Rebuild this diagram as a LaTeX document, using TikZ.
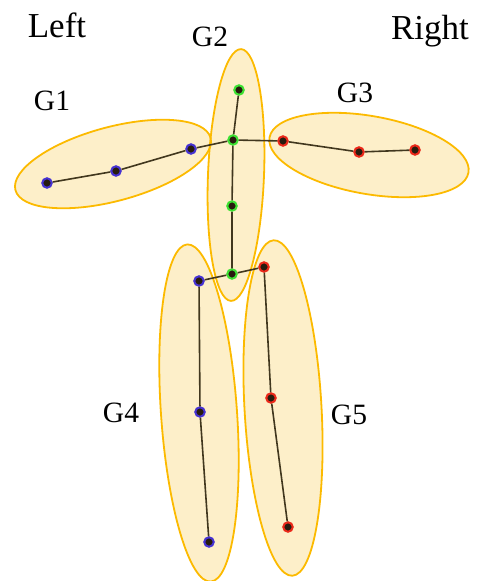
\documentclass[tikz,border=0pt]{standalone}
\usepackage{fontspec}
\setmainfont{Liberation Serif}
\usetikzlibrary{shapes.geometric}
\definecolor{gfill}{RGB}{253,239,201}
\definecolor{gline}{RGB}{252,186,0}
\definecolor{bonecol}{RGB}{65,55,30}
\definecolor{jcore}{RGB}{40,28,15}
\definecolor{jblue}{RGB}{70,50,210}
\definecolor{jgreen}{RGB}{60,225,50}
\definecolor{jred}{RGB}{235,40,25}

\begin{document}
\begin{tikzpicture}[x=1pt, y=1pt,
  font=\fontsize{29.5}{32}\selectfont,
  side/.style={font=\fontsize{35}{38}\selectfont},
  groupfill/.style={ellipse, fill=gfill, inner sep=0pt},
  groupline/.style={ellipse, draw=gline, line width=1.8pt, inner sep=0pt},
  joint/.style={circle, fill=jcore, line width=2pt, minimum size=9.5pt, inner sep=0pt},
  jb/.style={joint, draw=jblue},
  jg/.style={joint, draw=jgreen},
  jr/.style={joint, draw=jred},
  bone/.style={draw=bonecol, line width=1.6pt}]
\useasboundingbox (0,0) rectangle (478,-581);

% groups: fill first, outlines on top
\foreach \n/\x/\y/\w/\h/\r in {g2/236/-175/56/252/-2.3, g1/113/-164/202/74/15, g3/369/-155/202/78/-10, g4/199/-413/76/338/4, g5/283/-408/77/336/3.2}{
  \node[groupfill, minimum width=\w, minimum height=\h, rotate=\r] (\n) at (\x,\y) {};
}
\foreach \x/\y/\w/\h/\r in {236/-175/56/252/-2.3, 113/-164/202/74/15, 369/-155/202/78/-10, 199/-413/76/338/4, 283/-408/77/336/3.2}{
  \node[groupline, minimum width=\w, minimum height=\h, rotate=\r] at (\x,\y) {};
}

% joints
\node[jb] (lhand) at (47,-183) {};
\node[jb] (lelb) at (116,-171) {};
\node[jb] (lsho) at (191,-149) {};
\node[jg] (head) at (239,-90) {};
\node[jg] (neck) at (233,-140) {};
\node[jg] (spine) at (232,-206) {};
\node[jg] (pelvis) at (232,-274) {};
\node[jr] (rsho) at (283,-141) {};
\node[jr] (relb) at (359,-152) {};
\node[jr] (rhand) at (415,-150) {};
\node[jb] (lhip) at (199,-281) {};
\node[jb] (lknee) at (200,-412) {};
\node[jb] (lfoot) at (209,-542) {};
\node[jr] (rhip) at (264,-267) {};
\node[jr] (rknee) at (271,-398) {};
\node[jr] (rfoot) at (288,-527) {};

% skeleton
\draw[bone] (lhand) -- (lelb) -- (lsho) -- (neck);
\draw[bone] (head) -- (neck) -- (spine) -- (pelvis);
\draw[bone] (neck) -- (rsho) -- (relb) -- (rhand);
\draw[bone] (lhip) -- (pelvis) -- (rhip);
\draw[bone] (lhip) -- (lknee) -- (lfoot);
\draw[bone] (rhip) -- (rknee) -- (rfoot);

% labels
\node[side] (left) at (57,-25) {Left};
\node[side] (right) at (430,-31) {Right};
\node (lg1) at (52,-101) {G1};
\node (lg2) at (210,-37) {G2};
\node (lg3) at (355,-93) {G3};
\node (lg4) at (121,-413) {G4};
\node (lg5) at (349,-415) {G5};
\end{tikzpicture}
\end{document}
